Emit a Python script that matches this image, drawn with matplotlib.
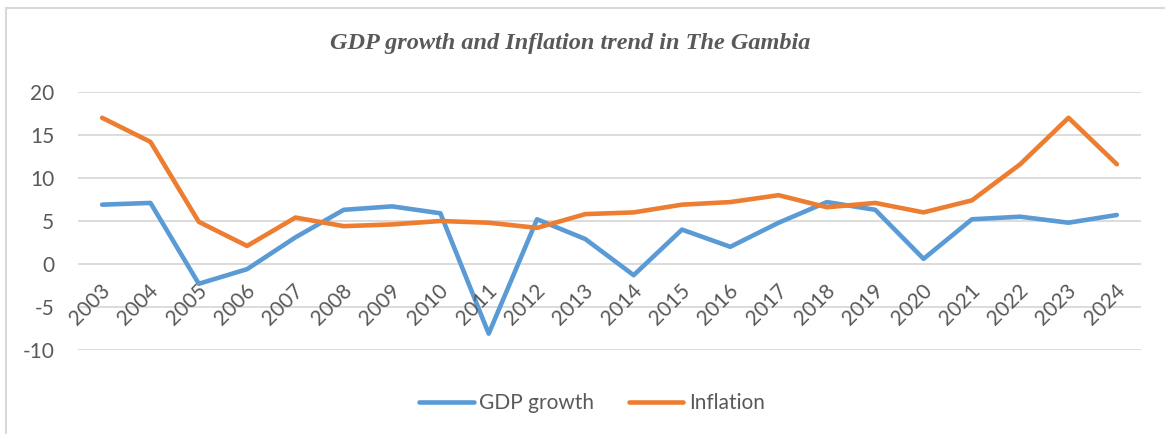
import matplotlib
matplotlib.use("Agg")
from matplotlib import pyplot as plt
from matplotlib.lines import Line2D

years = [str(y) for y in range(2003, 2025)]
gdp_growth = [6.9, 7.1, -2.3, -0.6, 3.1, 6.3, 6.7, 5.9, -8.1, 5.2, 2.9,
              -1.3, 4.0, 2.0, 4.8, 7.2, 6.3, 0.6, 5.2, 5.5, 4.8, 5.7]
inflation = [17.0, 14.2, 4.9, 2.1, 5.4, 4.4, 4.6, 5.0, 4.8, 4.2, 5.8,
             6.0, 6.9, 7.2, 8.0, 6.6, 7.1, 6.0, 7.4, 11.6, 17.0, 11.6]
y_ticks = [-10, -5, 0, 5, 10, 15, 20]

blue = "#5B9BD5"
orange = "#ED7D31"
grey_text = "#595959"
font = "Lato"
fs = 15

fig = plt.figure(figsize=(11.65, 4.34), dpi=100)
W, H = 1165, 434

# outer chart frame (left and top edges visible)
fig.add_artist(Line2D([6 / W, 6 / W], [0, 1 - 8 / H], transform=fig.transFigure,
                      color="#D9D9D9", lw=1.5))
fig.add_artist(Line2D([6 / W, 1], [1 - 8 / H, 1 - 8 / H], transform=fig.transFigure,
                      color="#D9D9D9", lw=1.5))

ax = fig.add_axes([78 / W, 1 - 350 / H, (1141 - 78) / W, (350 - 92) / H])
x = list(range(len(years)))
ax.plot(x, gdp_growth, color=blue, lw=3.3, solid_capstyle="round", solid_joinstyle="round",
        label="GDP growth", zorder=3)
ax.plot(x, inflation, color=orange, lw=3.3, solid_capstyle="round", solid_joinstyle="round",
        label="Inflation", zorder=3)

ax.set_xlim(-0.5, len(years) - 0.5)
ax.set_ylim(-10, 20)
ax.set_yticks(y_ticks)
ax.set_yticklabels([str(v) for v in y_ticks], fontsize=fs, color=grey_text, family=font)
ax.tick_params(axis="y", length=0, pad=17)
ax.set_xticks([])
ax.grid(axis="y", color="#D9D9D9", lw=1.3)
ax.set_axisbelow(True)
for s in ax.spines.values():
    s.set_visible(False)

# category labels sit just below the zero line, rotated
for i, yr in enumerate(years):
    ax.annotate(yr, xy=(i, 0), xytext=(-1.5, -12), textcoords="offset points",
                rotation=45, ha="right", va="top", rotation_mode="anchor",
                fontsize=fs, color=grey_text, family=font)

fig.text(570 / W, 1 - 43 / H, "GDP growth and Inflation trend in The Gambia",
         ha="center", va="center", fontsize=17.5, fontweight="bold", fontstyle="italic",
         family="Liberation Serif", color=grey_text)

leg = fig.legend(handles=ax.get_lines(), loc="center", bbox_to_anchor=(592 / W, 1 - 403 / H),
                 ncol=2, frameon=False, prop={"family": font, "size": fs},
                 handlelength=2.6, handletextpad=0.25, columnspacing=1.7)
for t in leg.get_texts():
    t.set_color(grey_text)

fig.savefig("out.png", dpi=100)
